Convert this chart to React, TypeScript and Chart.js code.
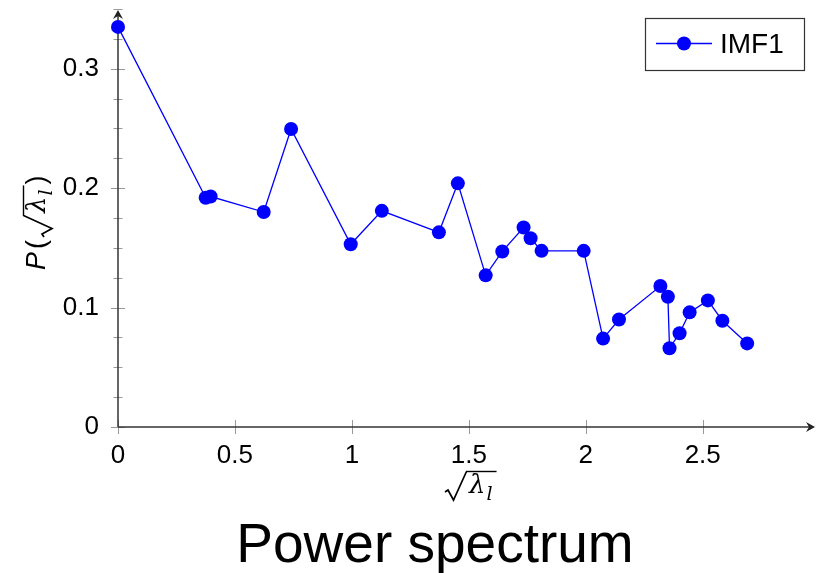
import React, { useEffect, useRef } from "react";
import { Chart, registerables } from "chart.js";
Chart.register(...registerables);

const xValues = [0, 0.375, 0.396, 0.623, 0.74, 0.995, 1.128, 1.372, 1.453, 1.572, 1.643, 1.734, 1.764, 1.811, 1.991, 2.074, 2.142, 2.319, 2.351, 2.358, 2.401, 2.444, 2.522, 2.584, 2.69];
const yValues = [0.335, 0.192, 0.193, 0.18, 0.2495, 0.153, 0.181, 0.163, 0.204, 0.127, 0.147, 0.167, 0.158, 0.1475, 0.1475, 0.074, 0.09, 0.118, 0.109, 0.066, 0.0785, 0.096, 0.106, 0.089, 0.07];
const seriesName = "IMF1";
const chartTitle = "Power spectrum";
const xMin = 0;
const xMax = 2.98;
const yMin = 0;
const yMax = 0.35;
const xTickStep = 0.5;
const xLastTick = 2.5;
const yTickStep = 0.1;
const yMinorStep = 0.025;

const FONT = "'Liberation Sans', Arial, sans-serif";
const BLUE = "#0000ff";

function drawSqrtLambda(ctx: CanvasRenderingContext2D, x: number, y: number, prefix: boolean) {
  ctx.textBaseline = "alphabetic";
  ctx.textAlign = "left";
  let sx = x;
  if (prefix) {
    ctx.font = `italic 27px ${FONT}`;
    ctx.fillText("P", x, y);
    const wP = ctx.measureText("P").width;
    ctx.font = `27px ${FONT}`;
    ctx.fillText("(", x + wP + 3, y);
    const wp = ctx.measureText("(").width;
    sx = x + wP + 3 + wp + 3;
  }
  ctx.save();
  ctx.strokeStyle = "#000";
  ctx.lineWidth = 1.7;
  ctx.lineJoin = "miter";
  ctx.beginPath();
  ctx.moveTo(sx, y - 1);
  ctx.lineTo(sx + 3, y - 3);
  ctx.lineTo(sx + 8.5, y + 7);
  ctx.lineTo(sx + 21.5, y - 21.5);
  ctx.stroke();
  ctx.font = `italic 26px 'DejaVu Serif', serif`;
  ctx.fillText("\u03BB", sx + 24, y);
  const wl = ctx.measureText("\u03BB").width;
  ctx.font = `italic 19px 'DejaVu Serif', serif`;
  ctx.fillText("l", sx + 24 + wl + 1, y + 7);
  const wsub = ctx.measureText("l").width;
  const end = sx + 24 + wl + 1 + wsub + 4;
  ctx.lineWidth = 1.4;
  ctx.beginPath();
  ctx.moveTo(sx + 21, y - 21.5);
  ctx.lineTo(end, y - 21.5);
  ctx.stroke();
  ctx.restore();
  if (prefix) {
    ctx.font = `27px ${FONT}`;
    ctx.fillText(")", end + 1, y);
  }
}

const zeroPad = (s: any) => {
  s.paddingTop = 0;
  s.paddingBottom = 0;
  s.paddingLeft = 0;
  s.paddingRight = 0;
};

const decorPlugin = {
  id: "decor",
  beforeDatasetsDraw(chart: any) {
    const ctx: CanvasRenderingContext2D = chart.ctx;
    const xs = chart.scales.x;
    const ys = chart.scales.y;
    const x0 = xs.getPixelForValue(xMin);
    const y0 = ys.getPixelForValue(yMin);
    const xEnd = xs.getPixelForValue(xMax);
    const yEnd = ys.getPixelForValue(yMax);
    ctx.save();
    ctx.strokeStyle = "#999999";
    ctx.lineWidth = 1;
    for (let i = 0; i * xTickStep <= xLastTick + 1e-9; i++) {
      const px = Math.round(xs.getPixelForValue(i * xTickStep)) + 0.5;
      ctx.beginPath();
      ctx.moveTo(px, y0 - 7);
      ctx.lineTo(px, y0 + 7);
      ctx.stroke();
    }
    for (let i = 0; i * yMinorStep <= yMax + 1e-9; i++) {
      const py = Math.round(ys.getPixelForValue(i * yMinorStep)) + 0.5;
      const h = i % 4 === 0 ? 7 : 4.5;
      ctx.beginPath();
      ctx.moveTo(x0 - h, py);
      ctx.lineTo(x0 + h, py);
      ctx.stroke();
    }
    ctx.strokeStyle = "#333333";
    ctx.fillStyle = "#222222";
    ctx.lineWidth = 1.5;
    ctx.beginPath();
    ctx.moveTo(x0, y0);
    ctx.lineTo(xEnd - 2, y0);
    ctx.stroke();
    ctx.beginPath();
    ctx.moveTo(x0, y0);
    ctx.lineTo(x0, yEnd + 3);
    ctx.stroke();
    ctx.beginPath();
    ctx.moveTo(xEnd, y0);
    ctx.lineTo(xEnd - 9, y0 - 5);
    ctx.lineTo(xEnd - 6, y0);
    ctx.lineTo(xEnd - 9, y0 + 5);
    ctx.closePath();
    ctx.fill();
    ctx.beginPath();
    ctx.moveTo(x0, yEnd + 1);
    ctx.lineTo(x0 - 5, yEnd + 10);
    ctx.lineTo(x0, yEnd + 7);
    ctx.lineTo(x0 + 5, yEnd + 10);
    ctx.closePath();
    ctx.fill();
    ctx.restore();
  },
  afterDraw(chart: any) {
    const ctx: CanvasRenderingContext2D = chart.ctx;
    ctx.save();
    ctx.fillStyle = "#000000";
    drawSqrtLambda(ctx, 445, 493, false);
    ctx.save();
    ctx.translate(45, 270);
    ctx.rotate(-Math.PI / 2);
    drawSqrtLambda(ctx, 0, 0, true);
    ctx.restore();
    ctx.fillStyle = "#000000";
    ctx.font = `55px ${FONT}`;
    ctx.textAlign = "center";
    ctx.textBaseline = "alphabetic";
    ctx.fillText(chartTitle, 435, 562);
    const lx = 645, ly = 18, lw = 159, lh = 52;
    ctx.fillStyle = "#ffffff";
    ctx.fillRect(lx, ly, lw, lh);
    ctx.strokeStyle = "#333333";
    ctx.lineWidth = 1.2;
    ctx.strokeRect(lx + 0.5, ly + 0.5, lw, lh);
    ctx.strokeStyle = BLUE;
    ctx.lineWidth = 1.3;
    ctx.beginPath();
    ctx.moveTo(656, 43.5);
    ctx.lineTo(712, 43.5);
    ctx.stroke();
    ctx.fillStyle = BLUE;
    ctx.beginPath();
    ctx.arc(684, 43.5, 7, 0, Math.PI * 2);
    ctx.fill();
    ctx.fillStyle = "#000000";
    ctx.font = `28px ${FONT}`;
    ctx.textAlign = "left";
    ctx.textBaseline = "middle";
    ctx.fillText(seriesName, 720, 45);
    ctx.restore();
  },
};

export default function App() {
  const ref = useRef<HTMLCanvasElement | null>(null);
  useEffect(() => {
    if (!ref.current) return;
    const points = xValues.map((x, i) => ({ x, y: yValues[i] }));
    const chart = new Chart(ref.current, {
      type: "line",
      data: {
        datasets: [
          {
            label: seriesName,
            data: points,
            borderColor: BLUE,
            backgroundColor: BLUE,
            borderWidth: 1.3,
            pointRadius: 7,
            pointHoverRadius: 7,
            pointBorderWidth: 0,
            tension: 0,
            fill: false,
            clip: false,
          },
        ],
      },
      options: {
        responsive: false,
        animation: false,
        layout: { autoPadding: false, padding: { left: 58, top: 9, right: 1, bottom: 106 } },
        plugins: { legend: { display: false }, title: { display: false }, tooltip: { enabled: false } },
        scales: {
          x: {
            type: "linear",
            min: xMin,
            max: xMax,
            grid: { display: false, drawTicks: false },
            border: { display: false },
            ticks: {
              stepSize: xTickStep,
              includeBounds: false,
              padding: 13,
              color: "#000",
              font: { family: FONT, size: 26 },
              maxRotation: 0,
              autoSkip: false,
              callback: (v: any) => String(Math.round(Number(v) * 100) / 100),
            },
            afterFit: (s: any) => {
              s.height = 40;
              zeroPad(s);
            },
          },
          y: {
            type: "linear",
            min: yMin,
            max: yMax,
            grid: { display: false, drawTicks: false },
            border: { display: false },
            ticks: {
              stepSize: yTickStep,
              includeBounds: false,
              padding: 19,
              color: "#000",
              font: { family: FONT, size: 26 },
              autoSkip: false,
              callback: (v: any) => String(Math.round(Number(v) * 100) / 100),
            },
            afterFit: (s: any) => {
              s.width = 60;
              zeroPad(s);
            },
          },
        },
      },
      plugins: [decorPlugin],
    });
    return () => chart.destroy();
  }, []);
  return (
    <div style={{ position: "absolute", left: 0, top: 0, width: 816, height: 573, background: "#fff" }}>
      <canvas ref={ref} width={816} height={573} style={{ display: "block" }} />
    </div>
  );
}
